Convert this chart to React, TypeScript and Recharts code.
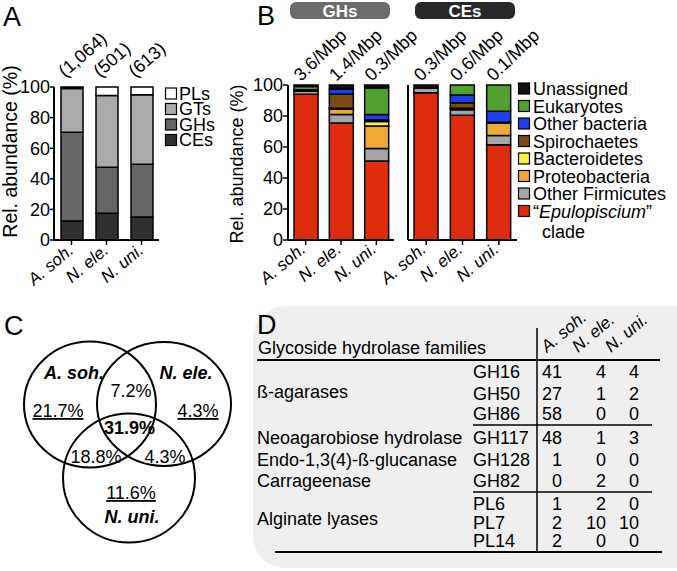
import React from "react";
import { Bar, BarChart, LabelList, Scatter, ScatterChart, XAxis, YAxis } from "recharts";

const FONT = '"Liberation Sans", Arial, Helvetica, sans-serif';

// ---- panel A: CAZyme classes per genome
const speciesA = ["A. soh.", "N. ele.", "N. uni."];
const cazyCounts = ["(1,064)", "(501)", "(613)"];
const cesA = [12.5, 17.5, 15];
const ghsA = [58, 30, 34.5];
const gtsA = [28.5, 47, 45.5];
const plsA = [1, 5.5, 5];

// ---- panel B: taxonomic origin of GHs and CEs
const speciesB = ["A. soh.", "N. ele.", "N. uni."];
const ghDensity = ["3.6/Mbp", "1.4/Mbp", "0.3/Mbp"];
const ceDensity = ["0.3/Mbp", "0.6/Mbp", "0.1/Mbp"];
const ghEpulo = [94, 75.5, 51];
const ghFirm = [2, 5.5, 8];
const ghProteo = [0, 3.5, 14.5];
const ghBactero = [0, 0.5, 3];
const ghSpiro = [0.5, 9, 1];
const ghOther = [0.5, 3.5, 3.5];
const ghEuk = [2, 0, 17];
const ghUnassigned = [1, 2.5, 2];
const ceEpulo = [95, 80.5, 61.5];
const ceFirm = [3, 3.5, 6];
const ceProteo = [0, 1, 8];
const ceBactero = [0, 0, 0];
const ceSpiro = [0, 3.5, 0.5];
const ceOther = [0, 5, 7];
const ceEuk = [0, 6.5, 17];
const ceUnassigned = [2, 0, 0];

// ---- panel C: shared GH families
const vennSets = ["A. soh.", "N. ele.", "N. uni."];
const vennValues = ["21.7%", "4.3%", "11.6%", "7.2%", "18.8%", "4.3%", "31.9%"];

// ---- panel D: table
const tableGroups = ["ß-agarases", "Neoagarobiose hydrolase", "Endo-1,3(4)-ß-glucanase", "Carrageenase", "Alginate lyases"];
const families = ["GH16", "GH50", "GH86", "GH117", "GH128", "GH82", "PL6", "PL7", "PL14"];
const aSohCounts = [41, 27, 58, 48, 1, 0, 1, 2, 2];
const nEleCounts = [4, 1, 0, 1, 0, 2, 2, 10, 0];
const nUniCounts = [4, 2, 0, 3, 0, 0, 0, 10, 0];

const dataA = speciesA.map((name, i) => ({
  name, label: cazyCounts[i], ces: cesA[i], ghs: ghsA[i], gts: gtsA[i], pls: plsA[i],
}));

const taxa = [
  { key: "epulo", color: "#de2c0e" },
  { key: "firm", color: "#a6a6a6" },
  { key: "proteo", color: "#eeaa35" },
  { key: "bactero", color: "#f7f23c" },
  { key: "spiro", color: "#7b4a16" },
  { key: "other", color: "#1f3ef2" },
  { key: "euk", color: "#52a02f" },
  { key: "unassigned", color: "#111111" },
];

const dataGH = speciesB.map((name, i) => ({
  name, label: ghDensity[i], epulo: ghEpulo[i], firm: ghFirm[i], proteo: ghProteo[i], bactero: ghBactero[i],
  spiro: ghSpiro[i], other: ghOther[i], euk: ghEuk[i], unassigned: ghUnassigned[i],
}));
const dataCE = speciesB.map((name, i) => ({
  name, label: ceDensity[i], epulo: ceEpulo[i], firm: ceFirm[i], proteo: ceProteo[i], bactero: ceBactero[i],
  spiro: ceSpiro[i], other: ceOther[i], euk: ceEuk[i], unassigned: ceUnassigned[i],
}));

const axisStroke = { stroke: "#000", strokeWidth: 2 };
const tickStroke = { stroke: "#000", strokeWidth: 1.5 };

const speciesTick = (dx: number, dy: number) => (props: any) => {
  const px = props.x + dx;
  const py = props.y + dy;
  return (
    <text x={px} y={py} transform={`rotate(-40 ${px} ${py})`} textAnchor="end" fontSize={17}
      fontStyle="italic" fontFamily={FONT} fill="#000">{props.payload.value}</text>
  );
};

const topLabel = (dx: number, yTop: number, angle: number) => (props: any) => {
  const px = Number(props.x) + Number(props.width) / 2 + dx;
  return (
    <text x={px} y={yTop} transform={`rotate(${angle} ${px} ${yTop})`} fontSize={18} fontFamily={FONT} fill="#000">
      {props.value}
    </text>
  );
};

const TaxaChart = ({ data, left, width, yWidth, showTicks }: any) => (
  <div style={{ position: "absolute", left, top: 0 }}>
    <BarChart width={width} height={300} data={data} margin={{ top: 85, right: 6, bottom: 0, left: 0 }}>
      <XAxis dataKey="name" height={60} axisLine={axisStroke} tickLine={tickStroke} tickSize={5}
        interval={0} tick={speciesTick(1, 4)} />
      <YAxis domain={[0, 100]} ticks={[0, 20, 40, 60, 80, 100]} width={yWidth} axisLine={axisStroke}
        tickLine={tickStroke} tickSize={5} tickMargin={0} interval={0}
        tick={showTicks ? { fontSize: 18, fill: "#000", fontFamily: FONT } : false} />
      {taxa.map((t, i) => (
        <Bar key={t.key} dataKey={t.key} stackId="s" fill={t.color} stroke="#000" strokeWidth={1.5}
          barSize={24} isAnimationActive={false}>
          {i === 0 && <LabelList dataKey="label" content={topLabel(-5, 82, -44)} />}
        </Bar>
      ))}
    </BarChart>
  </div>
);

const vennCircles = [
  { x: 90, y: 404.5, rx: 66, ry: 63 },
  { x: 164, y: 404, rx: 67, ry: 62 },
  { x: 129, y: 478, rx: 66, ry: 64.5 },
];
const vennLabels = [
  { x: 74, y: 379, text: vennSets[0], bold: true, italic: true },
  { x: 186, y: 379, text: vennSets[1], bold: true, italic: true },
  { x: 132, y: 523, text: vennSets[2], bold: true, italic: true },
  { x: 58, y: 417, text: vennValues[0], underline: true },
  { x: 198, y: 417, text: vennValues[1], underline: true },
  { x: 131, y: 499, text: vennValues[2], underline: true },
  { x: 131, y: 397, text: vennValues[3] },
  { x: 96, y: 463, text: vennValues[4] },
  { x: 165, y: 463, text: vennValues[5] },
  { x: 129.5, y: 434, text: vennValues[6], bold: true },
];

const legendA = [
  { name: "PLs", color: "#ffffff" },
  { name: "GTs", color: "#aaaaaa" },
  { name: "GHs", color: "#666666" },
  { name: "CEs", color: "#303030" },
];
const legendB = ["Unassigned", "Eukaryotes", "Other bacteria", "Spirochaetes", "Bacteroidetes", "Proteobacteria", "Other Firmicutes"];

const rowY = [378, 400, 420, 444, 466, 487, 510, 529, 547];
const groupY = [398, 444, 466, 487, 525];

export default function App() {
  return (
    <div style={{ position: "absolute", left: 0, top: 0, width: 677, height: 571, background: "#fff", fontFamily: FONT }}>
      <style>{".recharts-surface{overflow:visible}"}</style>
      {/* D background + table */}
      <svg width={677} height={571} style={{ position: "absolute", left: 0, top: 0 }} fontFamily={FONT}>
        <rect x={253} y={306} width={470} height={262} rx={32} fill="#efefef" />
        <text x={257} y={334} fontSize={27}>D</text>
        <text x={258} y={354} fontSize={18}>Glycoside hydrolase families</text>
        {["A. soh.", "N. ele.", "N. uni."].map((s, i) => {
          const x = [547, 578, 611][i];
          return (
            <text key={s} x={x} y={353} transform={`rotate(-40 ${x} 353)`} fontSize={17} fontStyle="italic">{s}</text>
          );
        })}
        <line x1={257} x2={660} y1={360} y2={360} stroke="#000" strokeWidth={2} />
        <line x1={537} x2={537} y1={328} y2={553} stroke="#000" strokeWidth={1.5} />
        <line x1={473} x2={652} y1={425} y2={425} stroke="#000" strokeWidth={1.5} />
        <line x1={473} x2={652} y1={492} y2={492} stroke="#000" strokeWidth={1.5} />
        <line x1={275} x2={662} y1={552} y2={552} stroke="#000" strokeWidth={2} />
        {tableGroups.map((g, i) => (
          <text key={g} x={257} y={groupY[i]} fontSize={18}>{g}</text>
        ))}
        {families.map((f, i) => (
          <g key={f} fontSize={18}>
            <text x={473} y={rowY[i]}>{f}</text>
            <text x={562} y={rowY[i]} textAnchor="end">{aSohCounts[i]}</text>
            <text x={606} y={rowY[i]} textAnchor="end">{nEleCounts[i]}</text>
            <text x={639} y={rowY[i]} textAnchor="end">{nUniCounts[i]}</text>
          </g>
        ))}
      </svg>

      {/* A */}
      <div style={{ position: "absolute", left: 0, top: 0 }}>
        <BarChart width={165} height={300} data={dataA} margin={{ top: 87, right: 6, bottom: 0, left: 0 }}>
          <XAxis dataKey="name" height={60} axisLine={axisStroke} tickLine={tickStroke} tickSize={5}
            interval={0} tick={speciesTick(3, 5)} />
          <YAxis domain={[0, 100]} ticks={[0, 20, 40, 60, 80, 100]} width={54} axisLine={axisStroke}
            tickLine={tickStroke} tickSize={4} tickMargin={0} interval={0}
            tick={{ fontSize: 18, fill: "#000", fontFamily: FONT }} />
          <Bar dataKey="ces" stackId="a" fill="#303030" stroke="#000" strokeWidth={1.5} barSize={22} isAnimationActive={false}>
            <LabelList dataKey="label" content={topLabel(-7, 78, -41)} />
          </Bar>
          <Bar dataKey="ghs" stackId="a" fill="#666666" stroke="#000" strokeWidth={1.5} barSize={22} isAnimationActive={false} />
          <Bar dataKey="gts" stackId="a" fill="#aaaaaa" stroke="#000" strokeWidth={1.5} barSize={22} isAnimationActive={false} />
          <Bar dataKey="pls" stackId="a" fill="#ffffff" stroke="#000" strokeWidth={1.5} barSize={22} isAnimationActive={false} />
        </BarChart>
      </div>

      {/* B */}
      <TaxaChart data={dataGH} left={195} width={205} yWidth={93} showTicks />
      <TaxaChart data={dataCE} left={400} width={123} yWidth={8} showTicks={false} />

      {/* C */}
      <div style={{ position: "absolute", left: 0, top: 330 }}>
        <ScatterChart width={250} height={235} margin={{ top: 0, right: 0, bottom: 0, left: 0 }}>
          <XAxis type="number" dataKey="x" domain={[0, 250]} hide />
          <YAxis type="number" dataKey="y" domain={[330, 565]} reversed hide />
          <Scatter data={vennCircles} isAnimationActive={false}
            shape={(p: any) => (
              <ellipse cx={p.cx} cy={p.cy} rx={p.payload.rx} ry={p.payload.ry} fill="none" stroke="#000" strokeWidth={2} />
            )} />
          <Scatter data={vennLabels} isAnimationActive={false}
            shape={(p: any) => (
              <text x={p.cx} y={p.cy} textAnchor="middle" fontSize={18} fontFamily={FONT} fill="#000"
                fontWeight={p.payload.bold ? "bold" : "normal"} fontStyle={p.payload.italic ? "italic" : "normal"}
                textDecoration={p.payload.underline ? "underline" : "none"}>{p.payload.text}</text>
            )} />
        </ScatterChart>
      </div>

      {/* overlay texts */}
      <svg width={677} height={571} style={{ position: "absolute", left: 0, top: 0, pointerEvents: "none" }} fontFamily={FONT}>
        <text x={3} y={26} fontSize={27}>A</text>
        <text x={257} y={25} fontSize={27}>B</text>
        <text x={4} y={335} fontSize={27}>C</text>
        <text transform="translate(17 151.5) rotate(-90)" textAnchor="middle" fontSize={19.5}>Rel. abundance (%)</text>
        <text transform="translate(243 164) rotate(-90)" textAnchor="middle" fontSize={18}>Rel. abundance (%)</text>
        {legendA.map((l, i) => (
          <g key={l.name}>
            <rect x={165.5} y={88 + i * 15.5} width={11} height={11} fill={l.color} stroke="#000" strokeWidth={1.2} />
            <text x={179} y={99.5 + i * 15.5} fontSize={18}>{l.name}</text>
          </g>
        ))}
        <rect x={290} y={2} width={100} height={17} rx={6} fill="#6c6c6c" />
        <text x={340} y={16.5} textAnchor="middle" fontSize={17} fontWeight="bold" fill="#fff">GHs</text>
        <rect x={415} y={2} width={100} height={17} rx={6} fill="#282828" />
        <text x={465} y={16.5} textAnchor="middle" fontSize={17} fontWeight="bold" fill="#fff">CEs</text>
        {legendB.map((name, i) => (
          <g key={name}>
            <rect x={518.5} y={83 + i * 17.5} width={11} height={11} fill={taxa[taxa.length - 1 - i].color} stroke="#000" strokeWidth={1.2} />
            <text x={533} y={95 + i * 17.5} fontSize={18}>{name}</text>
          </g>
        ))}
        <rect x={518.5} y={205.5} width={11} height={11} fill={taxa[0].color} stroke="#000" strokeWidth={1.2} />
        <text x={533} y={217.5} fontSize={18}>“<tspan fontStyle="italic">Epulopiscium</tspan>”</text>
        <text x={542} y={238} fontSize={18}>clade</text>
      </svg>
    </div>
  );
}
